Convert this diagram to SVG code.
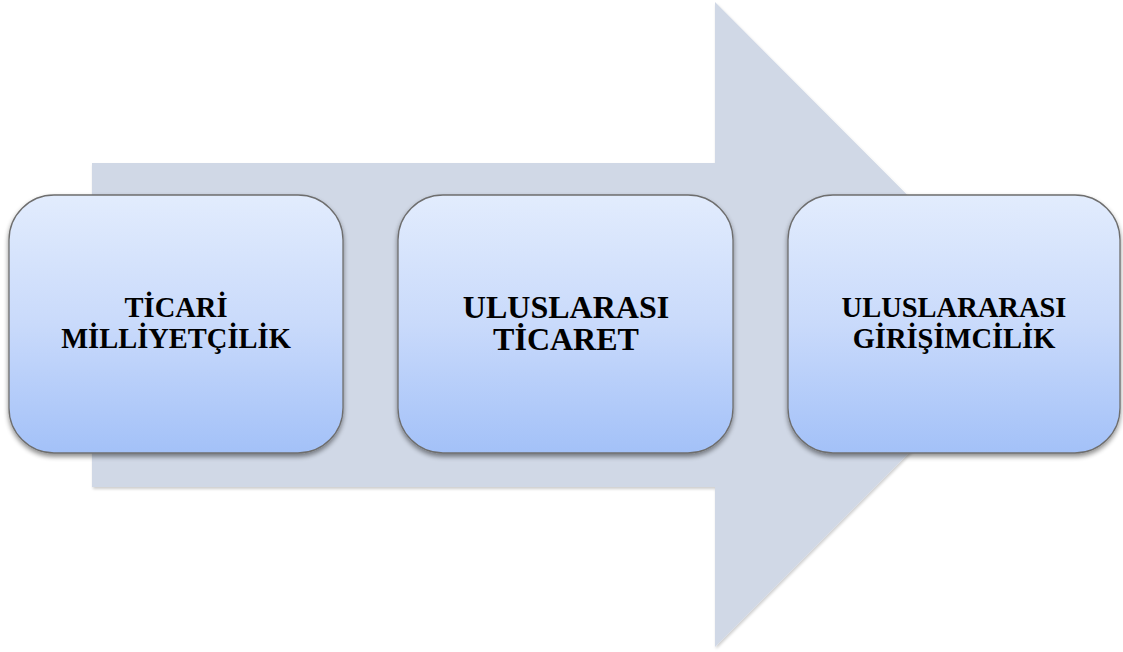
<svg xmlns="http://www.w3.org/2000/svg" width="1123" height="652" viewBox="0 0 1123 652">
<defs>
<linearGradient id="boxGrad" x1="0" y1="0" x2="0" y2="1">
<stop offset="0" stop-color="#e2ecfd"/>
<stop offset="0.5" stop-color="#c9dafb"/>
<stop offset="1" stop-color="#a3c1f8"/>
</linearGradient>
<filter id="shadow" x="-10%" y="-10%" width="120%" height="130%">
<feGaussianBlur in="SourceAlpha" stdDeviation="2.5"/>
<feOffset dx="0" dy="3" result="b"/>
<feComponentTransfer><feFuncA type="linear" slope="0.45"/></feComponentTransfer>
<feMerge><feMergeNode/><feMergeNode in="SourceGraphic"/></feMerge>
</filter>
<filter id="ashadow" x="-5%" y="-5%" width="110%" height="110%">
<feGaussianBlur in="SourceAlpha" stdDeviation="1.5"/>
<feOffset dx="1" dy="2" result="b"/>
<feComponentTransfer><feFuncA type="linear" slope="0.2"/></feComponentTransfer>
<feMerge><feMergeNode/><feMergeNode in="SourceGraphic"/></feMerge>
</filter>
</defs>
<style>
.box{fill:url(#boxGrad);stroke:#6e6e6e;stroke-width:1.3;filter:url(#shadow)}
.lbl{font-family:"Liberation Serif","Times New Roman",serif;font-weight:bold;fill:#000;text-anchor:middle}
</style>
<rect width="1123" height="652" fill="#ffffff"/>
<g id="arrow">
<polygon points="92,163 715,163 715,2 1037,325 715,647 715,487 92,487" fill="#d0d8e6" filter="url(#ashadow)"/>
</g>
<g id="node1">
<rect class="box" x="9" y="195" width="334" height="258" rx="45" ry="45"/>
<text class="lbl" x="176" y="317" font-size="28.5">TİCARİ</text>
<text class="lbl" x="176" y="348" font-size="28.5">MİLLİYETÇİLİK</text>
</g>
<g id="node2">
<rect class="box" x="398" y="195" width="335" height="258" rx="45" ry="45"/>
<text class="lbl" x="566" y="318" font-size="32">ULUSLARASI</text>
<text class="lbl" x="566" y="350" font-size="32">TİCARET</text>
</g>
<g id="node3">
<rect class="box" x="788" y="195" width="332" height="258" rx="45" ry="45"/>
<text class="lbl" x="954" y="317" font-size="28.5">ULUSLARARASI</text>
<text class="lbl" x="954" y="348" font-size="28.5">GİRİŞİMCİLİK</text>
</g>
<g id="connectors"/>
</svg>
